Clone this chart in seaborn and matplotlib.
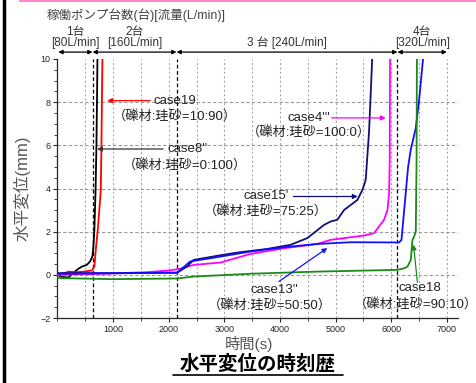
import pandas as pd
import seaborn as sns
import matplotlib.pyplot as plt
from matplotlib.ticker import MultipleLocator

# series (time s, horizontal displacement mm)
t_case8 = [0, 80, 200, 285, 360, 436, 526, 585, 628, 645, 663, 685, 700, 712, 720]
d_case8 = [0.0, -0.1, -0.12, 0.1, 0.25, 0.38, 0.46, 0.62, 0.85, 1.31, 2.08, 4.0, 6.0, 8.5, 10.5]

t_case19 = [0, 150, 200, 300, 450, 616, 663, 688, 724, 778, 790, 798, 810]
d_case19 = [0.0, 0.1, 0.15, 0.12, 0.14, 0.2, 0.38, 1.16, 2.08, 3.9, 6.0, 8.0, 10.5]

t_case4 = [0, 800, 1600, 2000, 2200, 2450, 2930, 3470, 4070, 4670, 4910, 5505, 5690, 5780, 5870, 5932, 5961, 5973, 5978]
d_case4 = [0.0, 0.05, 0.12, 0.2, 0.28, 0.46, 0.57, 0.97, 1.23, 1.43, 1.62, 1.82, 1.93, 2.24, 2.55, 3.0, 3.78, 5.3, 10.5]

t_case15 = [0, 1000, 2150, 2328, 2447, 2868, 3228, 3770, 4189, 4490, 4790, 4910, 5030, 5150, 5391, 5481, 5541, 5600, 5631, 5665]
d_case15 = [0.08, 0.08, 0.1, 0.38, 0.69, 0.88, 1.03, 1.2, 1.39, 1.7, 2.31, 2.47, 2.55, 3.0, 3.47, 3.93, 4.4, 6.6, 8.4, 10.5]

t_case13 = [0, 1000, 2150, 2387, 2868, 3468, 4070, 4670, 5270, 6141, 6184, 6243, 6303, 6351, 6441, 6501, 6590]
d_case13 = [0.05, 0.07, 0.1, 0.62, 0.82, 1.08, 1.28, 1.43, 1.51, 1.5, 1.62, 3.3, 5.0, 5.8, 6.8, 8.1, 10.5]

t_case18 = [0, 1000, 2150, 2450, 3470, 4670, 6111, 6230, 6292, 6351, 6381, 6411, 6441, 6455, 6462]
d_case18 = [-0.15, -0.2, -0.17, -0.08, 0.05, 0.15, 0.23, 0.3, 0.38, 0.69, 1.62, 1.77, 2.0, 5.3, 10.5]

case_names = ["case8''", "case19", "case4'''", "case15'", "case13''", "case18"]
case_colors = ["#000000", "#ff0000", "#ff00ff", "#10107a", "#1010ff", "#1a8a1a"]

# pump changes and labels
pump_edges = [15, 630, 2140, 6112, 7000]
pump_labels = ["1台\n[80L/min]", "2台\n[160L/min]", "3 台 [240L/min]", "4台\n[320L/min]"]

sns.set_style("ticks")
plt.rcParams['font.family'] = ['Liberation Sans', 'Noto Sans CJK JP']

frames = []
for name, t, d in zip(case_names,
                      [t_case8, t_case19, t_case4, t_case15, t_case13, t_case18],
                      [d_case8, d_case19, d_case4, d_case15, d_case13, d_case18]):
    frames.append(pd.DataFrame({'t': t, 'd': d, 'case': name}))
df = pd.concat(frames, ignore_index=True)

fig = plt.figure(figsize=(4.77, 3.83), dpi=100)
ax = fig.add_axes([57.5/477, 1-318/383, 400.5/477, 259/383])

# grid
for x in range(500, 7001, 500):
    ax.axvline(x, color='#aaaaaa', lw=0.8, ls=(0, (2, 2)), zorder=0)
for y in [0, 2, 4, 6, 8]:
    ax.axhline(y, color='#999999', lw=0.8, ls=(0, (3, 2)), zorder=0)
for x in pump_edges[1:4]:
    ax.axvline(x, color='black', lw=0.9, ls=(0, (3, 2)), zorder=1)

sns.lineplot(data=df, x='t', y='d', hue='case', palette=dict(zip(case_names, case_colors)),
             estimator=None, sort=False, legend=False, lw=1.3, ax=ax, zorder=3)

ax.set_xlim(0, 7200)
ax.set_ylim(-2, 10)
ax.set_xticks(range(1000, 7001, 1000))
ax.set_yticks(range(-2, 11, 2))
ax.xaxis.set_minor_locator(MultipleLocator(500))
ax.yaxis.set_minor_locator(MultipleLocator(0.5))
ax.tick_params(labelsize=6.5, length=3, width=0.8, pad=2)
ax.tick_params(which='minor', length=2, width=0.6)
ax.set_xlabel('')
ax.set_ylabel('')
sns.despine(ax=ax)
for s in ['left', 'bottom']:
    ax.spines[s].set_linewidth(0.9)

# pump arrows above the plot
for i, lab in enumerate(pump_labels):
    x0, x1 = pump_edges[i], pump_edges[i+1]
    ax.annotate('', xy=(x1, 10.32), xytext=(x0, 10.32), annotation_clip=False,
                arrowprops=dict(arrowstyle='<|-|>', color='black', lw=0.9,
                                mutation_scale=6, shrinkA=0, shrinkB=0))
    ax.text((x0 + x1) / 2, 10.45, lab, ha='center', va='bottom', fontsize=8.5,
            color='#333333', linespacing=0.95, clip_on=False)

# case annotations
notes = [
    ("case19", "（礫材:珪砂=10:90）", 1720, 8.07, 1000, 7.36, "#ff0000", (1667, 8.07), (892, 8.07)),
    ("case8''", "（礫材:珪砂=0:100）", 1973, 5.83, 1180, 5.09, "#333333", (1900, 5.83), (712, 5.83)),
    ("case4'''", "（礫材:珪砂=100:0）", 4130, 7.25, 3410, 6.59, "#ff00ff", (4928, 7.27), (5901, 7.27)),
    ("case15'", "（礫材:珪砂=75:25）", 3340, 3.63, 2625, 2.93, "#10107a", (4243, 3.63), (5396, 3.63)),
    ("case13''", "（礫材:珪砂=50:50）", 3470, -0.69, 2710, -1.39, "#1010ff", (3980, -0.31), (4850, 1.24)),
    ("case18", "（礫材:珪砂=90:10）", 6135, -0.6, 5330, -1.34, "#1a8a1a", (6470, -0.35), (6400, 1.4)),
]
for name, sub, nx, ny, sx, sy, col, a0, a1 in notes:
    ax.text(nx, ny, name, fontsize=9.5, color='#222222', va='center', ha='left', clip_on=False, zorder=5)
    ax.text(sx, sy, sub, fontsize=9.5, color='#222222', va='center', ha='left', clip_on=False, zorder=5)
    ax.annotate('', xy=a1, xytext=a0, annotation_clip=False,
                arrowprops=dict(arrowstyle='-|>', color=col, lw=0.9, mutation_scale=7,
                                shrinkA=0, shrinkB=0), zorder=4)

# figure texts
fig.text(47/477, 1-15/383, '稼働ポンプ台数(台)[流量(L/min)]', fontsize=9, color='#444444',
         ha='left', va='center')
fig.text(22/477, 1-188/383, '水平変位(mm)', fontsize=12, color='#555555', rotation=90,
         ha='center', va='center')
fig.text(249/477, 1-344/383, '時間(s)', fontsize=11, color='#555555', ha='center', va='center')
fig.text(258/477, 1-364/383, '水平変位の時刻歴', fontsize=14, fontweight='bold', color='black',
         ha='center', va='center')
fig.add_artist(plt.Line2D([173/477, 343/477], [1-375/383, 1-375/383], color='black', lw=1.2))

# frame bits of the original screenshot
fig.add_artist(plt.Line2D([4.5/477, 4.5/477], [0, 1], color='black', lw=2.5))
fig.add_artist(plt.Line2D([20/477, 1], [1-0.8/383, 1-0.8/383], color='#ff88cc', lw=1.5))

fig.savefig('out.png', dpi=100)
